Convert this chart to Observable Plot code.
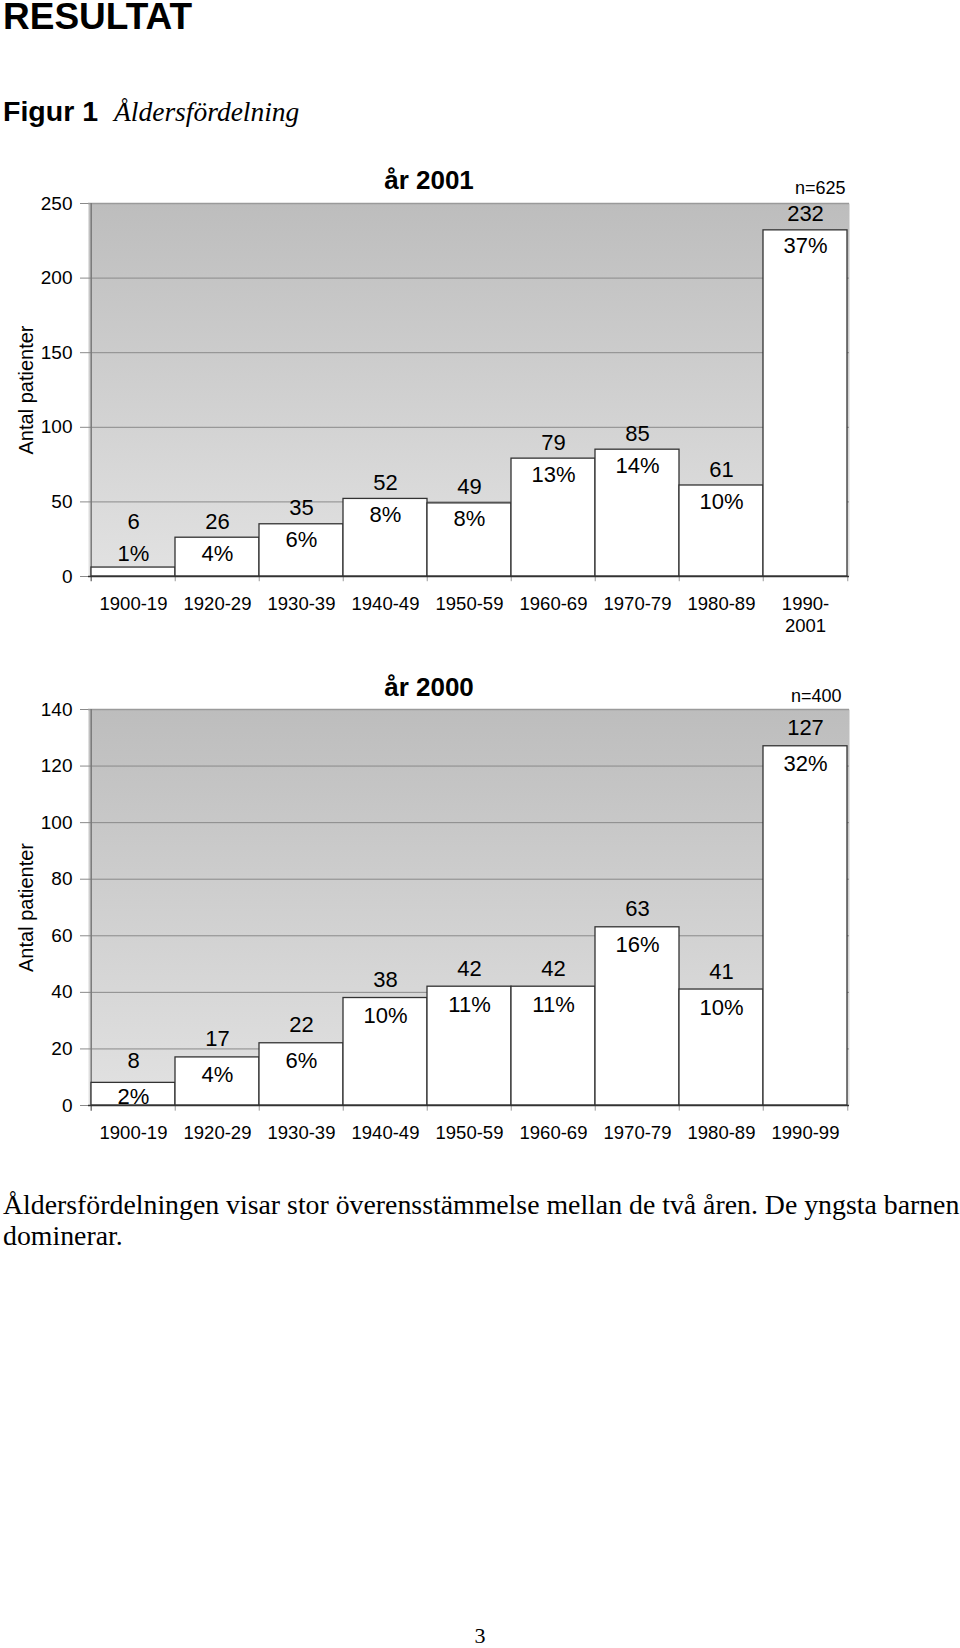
<!DOCTYPE html>
<html>
<head>
<meta charset="utf-8">
<script src="https://cdn.jsdelivr.net/npm/d3@7"></script>
<script src="https://cdn.jsdelivr.net/npm/@observablehq/plot@0.6"></script>
<style>
  html, body { margin: 0; padding: 0; background: #fff; }
  body { width: 960px; height: 1648px; position: relative; overflow: hidden; }
  .abs { position: absolute; white-space: nowrap; }
  #heading { left: 3px; top: 2px; font: bold 37px/30px "Liberation Sans", Arial, sans-serif; color: #000; }
  #figur { left: 3px; top: 97px; font: bold 28.5px/28px "Liberation Sans", Arial, sans-serif; color: #000; }
  #figur span { font: italic 27.5px/28px "Liberation Serif", "Times New Roman", serif; margin-left: 16px; font-weight: normal; }
  #chart1 { left: 0; top: 140px; }
  #chart2 { left: 0; top: 640px; }
  #caption { left: 3px; top: 1189px; font: 27.8px/31px "Liberation Serif", "Times New Roman", serif; color: #000; }
  #page { left: 0; width: 960px; text-align: center; top: 1623px; font: 22px/26px "Liberation Serif", "Times New Roman", serif; }
</style>
</head>
<body>
<div id="heading" class="abs">RESULTAT</div>
<div id="figur" class="abs">Figur 1<span>Åldersfördelning</span></div>
<div id="chart1" class="abs"></div>
<div id="chart2" class="abs"></div>
<div id="caption" class="abs">Åldersfördelningen visar stor överensstämmelse mellan de två åren. De yngsta barnen<br>dominerar.</div>
<div id="page" class="abs">3</div>
<script>
// ---- Data: år 2001 ----
const categories2001 = ["1900-19","1920-29","1930-39","1940-49","1950-59","1960-69","1970-79","1980-89","1990-2001"];
const tickLabels2001 = ["1900-19","1920-29","1930-39","1940-49","1950-59","1960-69","1970-79","1980-89","1990-\n2001"];
const counts2001 = [6, 26, 35, 52, 49, 79, 85, 61, 232];
const percents2001 = ["1%","4%","6%","8%","8%","13%","14%","10%","37%"];
const yTicks2001 = [0, 50, 100, 150, 200, 250];

// ---- Data: år 2000 ----
const categories2000 = ["1900-19","1920-29","1930-39","1940-49","1950-59","1960-69","1970-79","1980-89","1990-99"];
const tickLabels2000 = ["1900-19","1920-29","1930-39","1940-49","1950-59","1960-69","1970-79","1980-89","1990-99"];
const counts2000 = [8, 17, 22, 38, 42, 42, 63, 41, 127];
const percents2000 = ["2%","4%","6%","10%","11%","11%","16%","10%","32%"];
const yTicks2000 = [0, 20, 40, 60, 80, 100, 120, 140];

const FONT = "'Liberation Sans', Arial, sans-serif";

function makeChart(o) {
  const width = 960, marginLeft = 88, marginRight = 111;
  const bw = (width - marginLeft - marginRight) / o.cats.length;
  const yMax = o.yTicks[o.yTicks.length - 1];
  const data = o.cats.map((c, i) => ({cat: c, label: o.labels[i], value: o.counts[i], pct: o.pcts[i],
    ly: Math.max(o.counts[i], o.minLabel)}));
  const labelOf = new Map(data.map(d => [d.cat, d.label]));
  const tickLen = o.tickUnits;
  const svg = Plot.plot({
    width, height: o.height,
    marginLeft, marginRight, marginTop: o.marginTop, marginBottom: o.marginBottom,
    style: {fontFamily: FONT, fontSize: "19px", color: "#000", background: "transparent", overflow: "visible"},
    x: {domain: o.cats, padding: 0, axis: null},
    y: {domain: [0, yMax], axis: null},
    marks: [
      Plot.frame({fill: `url(#${o.id}-grad)`, stroke: "none"}),
      Plot.ruleY(o.yTicks.filter(t => t > 0 && t < yMax), {stroke: "#8a8a8a", strokeWidth: 1}),
      Plot.ruleY([yMax], {stroke: "#9a9a9a", strokeWidth: 1.5}),
      // left axis line + band-boundary ticks below the axis
      Plot.ruleX([o.cats[0]], {dx: -bw / 2, y1: -tickLen, y2: yMax, stroke: "#7a7a7a", strokeWidth: 1.5}),
      Plot.ruleX(o.cats.slice(1), {dx: -bw / 2, y1: -tickLen, y2: 0, stroke: "#999", strokeWidth: 1}),
      Plot.ruleX([o.cats[o.cats.length - 1]], {dx: bw / 2, y1: -tickLen, y2: 0, stroke: "#999", strokeWidth: 1}),
      Plot.barY(data, {x: "cat", y: "value", fill: "white", stroke: "#333", strokeWidth: 1.3}),
      Plot.ruleY([0], {stroke: "#333", strokeWidth: 1.6}),
      Plot.axisY({ticks: o.yTicks, tickSize: 8, tickFormat: () => "", stroke: "#8a8a8a", label: null}),
      Plot.axisY({ticks: o.yTicks, tickSize: 0, tickPadding: 16, fontSize: 19, fill: "#000", label: null}),
      Plot.axisX({tickSize: 0, tickPadding: 18, fontSize: 18.5, lineHeight: 1.2, fill: "#000", label: null,
        tickFormat: d => labelOf.get(d)}),
      Plot.text(data, {x: "cat", y: "ly", text: d => String(d.value), dy: -o.labelGap, fontSize: 22, fill: "#000"}),
      Plot.text(data, {x: "cat", y: "ly", text: "pct", dy: o.labelGap, fontSize: 22, fill: "#000"}),
      Plot.text(["Antal patienter"], {frameAnchor: "left", textAnchor: "middle", dx: -62, rotate: -90, fontSize: 20, fill: "#000"}),
      Plot.text([o.title], {frameAnchor: "top", dx: o.titleDx, dy: o.titleDy, fontSize: 26, fontWeight: "bold", fill: "#000", lineAnchor: "middle"}),
      Plot.text([o.n], {frameAnchor: "top-right", dx: o.nDx, dy: o.nDy, fontSize: 18, textAnchor: "end", fill: "#000", lineAnchor: "middle"})
    ]
  });
  const defs = d3.select(svg).insert("defs", ":first-child");
  const g = defs.append("linearGradient").attr("id", `${o.id}-grad`)
    .attr("x1", 0).attr("y1", 0).attr("x2", 0).attr("y2", 1);
  g.append("stop").attr("offset", "0%").attr("stop-color", "#bdbdbd");
  g.append("stop").attr("offset", "100%").attr("stop-color", "#e2e2e2");
  return svg;
}

document.getElementById("chart1").appendChild(makeChart({
  id: "c2001", cats: categories2001, labels: tickLabels2001, counts: counts2001, pcts: percents2001,
  yTicks: yTicks2001, minLabel: 26, labelGap: 16, tickUnits: 3.5,
  height: 500, marginTop: 63, marginBottom: 64,
  title: "år 2001", titleDx: -40, titleDy: -23, n: "n=625", nDx: -4, nDy: -15
}));

document.getElementById("chart2").appendChild(makeChart({
  id: "c2000", cats: categories2000, labels: tickLabels2000, counts: counts2000, pcts: percents2000,
  yTicks: yTicks2000, minLabel: 9.5, labelGap: 18, tickUnits: 2,
  height: 520, marginTop: 69, marginBottom: 55,
  title: "år 2000", titleDx: -40, titleDy: -22, n: "n=400", nDx: -8, nDy: -13
}));
</script>
</body>
</html>
